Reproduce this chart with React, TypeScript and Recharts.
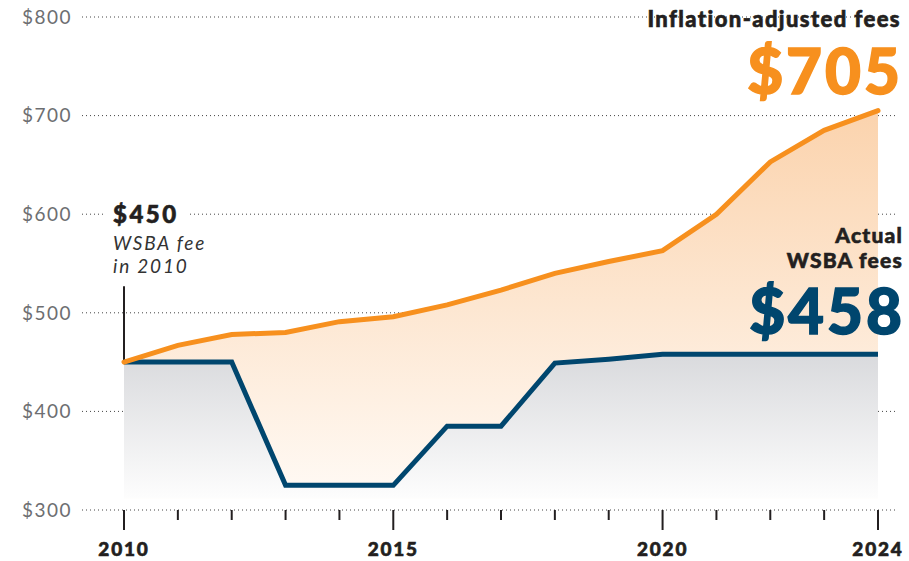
import React from 'react';
import {
  ComposedChart,
  Area,
  Line,
  XAxis,
  YAxis,
  CartesianGrid,
  ReferenceLine,
} from 'recharts';

const years = [2010, 2011, 2012, 2013, 2014, 2015, 2016, 2017, 2018, 2019, 2020, 2021, 2022, 2023, 2024];
const actualFees = [450, 450, 450, 325, 325, 325, 385, 385, 449, 453, 458, 458, 458, 458, 458];
const inflationFees = [450, 467, 478, 480, 491, 496, 508, 523, 540, 552, 563, 600, 653, 685, 705];
const majorYears = [2010, 2015, 2020, 2024];
const yTicks = [300, 400, 500, 600, 700, 800];

const data = years.map((year, i) => ({
  year,
  actual: actualFees[i],
  inflation: inflationFees[i],
}));

const FONT = 'Lato, "Open Sans", sans-serif';
const ORANGE = '#f7901e';
const NAVY = '#00466e';
const INK = '#231f20';

function YearTick(props: any) {
  const { x, y, payload } = props;
  const major = majorYears.includes(payload.value);
  return (
    <g>
      <line x1={x} x2={x} y1={y} y2={y + (major ? 20 : 10)} stroke={INK} strokeWidth={2} />
      {major && (
        <text
          x={x}
          y={y + 46}
          textAnchor="middle"
          fontFamily={FONT}
          fontWeight={900}
          fontSize={19}
          letterSpacing={1.8}
          fill={INK}
          stroke={INK}
          strokeWidth={0.6}
        >
          {payload.value}
        </text>
      )}
    </g>
  );
}

// line box == font content box (Lato: 1.2em), so top = baseline - 0.987 * size
const label = (size: number, baseline: number, extra: React.CSSProperties): React.CSSProperties => ({
  position: 'absolute',
  fontFamily: FONT,
  whiteSpace: 'nowrap',
  fontSize: size,
  lineHeight: `${size * 1.2}px`,
  top: baseline - size * 0.987,
  ...extra,
});

export default function App() {
  return (
    <div style={{ position: 'absolute', left: 0, top: 0, width: 909, height: 561, background: '#fff' }}>
      <ComposedChart width={909} height={561} data={data} margin={{ top: 17, right: 11, bottom: 0, left: 0 }}>
        <defs>
          <linearGradient id="orangeFill" x1="0" y1="0" x2="0" y2="1">
            <stop offset="0%" stopColor="#fbd3ad" />
            <stop offset="100%" stopColor="#fffaf5" />
          </linearGradient>
          <linearGradient id="greyFill" x1="0" y1="0" x2="0" y2="1">
            <stop offset="0%" stopColor="#d9dadd" />
            <stop offset="100%" stopColor="#fdfdfd" />
          </linearGradient>
        </defs>
        <XAxis
          dataKey="year"
          type="number"
          domain={[2010, 2024]}
          ticks={years}
          interval={0}
          padding={{ left: 42, right: 20 }}
          axisLine={false}
          tickLine={false}
          tickSize={0}
          tickMargin={0}
          height={51}
          tick={<YearTick />}
        />
        <YAxis
          domain={[300, 800]}
          ticks={yTicks}
          width={82}
          axisLine={false}
          tickLine={false}
          tickSize={0}
          tickMargin={10}
          tickFormatter={(v: number) => `$${v}`}
          tick={{ fill: '#6d6e71', fontSize: 19, fontFamily: FONT, letterSpacing: 1.5 }}
        />
        <Area
          dataKey="inflation"
          type="linear"
          stroke="none"
          fill="url(#orangeFill)"
          fillOpacity={1}
          baseValue={312}
          isAnimationActive={false}
        />
        <Area
          dataKey="actual"
          type="linear"
          stroke="none"
          fill="url(#greyFill)"
          fillOpacity={1}
          baseValue={312}
          isAnimationActive={false}
        />
        <CartesianGrid vertical={false} stroke="#444" strokeDasharray="1 3" />
        <ReferenceLine
          segment={[{ x: 2010, y: 452 }, { x: 2010, y: 527 }]}
          stroke={INK}
          strokeWidth={2}
        />
        <Line
          dataKey="actual"
          type="linear"
          stroke={NAVY}
          strokeWidth={5}
          dot={false}
          isAnimationActive={false}
        />
        <Line
          dataKey="inflation"
          type="linear"
          stroke={ORANGE}
          strokeWidth={5}
          strokeLinecap="round"
          dot={false}
          isAnimationActive={false}
        />
      </ComposedChart>

      {/* right-hand headline labels */}
      <div style={label(22, 28, { right: 8, fontWeight: 900, letterSpacing: 1.4, color: INK, WebkitTextStroke: `0.6px ${INK}` })}>
        Inflation-adjusted fees
      </div>
      <div style={label(62, 94, { right: 6, fontWeight: 900, letterSpacing: 3, color: ORANGE, WebkitTextStroke: `1.5px ${ORANGE}` })}>
        $705
      </div>
      <div style={label(21, 242.5, { right: 6, fontWeight: 900, letterSpacing: 1.2, color: INK, WebkitTextStroke: `0.6px ${INK}` })}>
        Actual
      </div>
      <div style={label(21, 268, { right: 6, fontWeight: 900, letterSpacing: 1.2, color: INK, WebkitTextStroke: `0.6px ${INK}` })}>
        WSBA fees
      </div>
      <div style={label(62, 334, { right: 4, fontWeight: 900, letterSpacing: 3, color: NAVY, WebkitTextStroke: `1.5px ${NAVY}` })}>
        $458
      </div>

      {/* 2010 annotation */}
      <div style={label(24, 224, { left: 106, padding: '0 8px 0 7px', background: '#fff', fontWeight: 900, letterSpacing: 2.5, color: INK, WebkitTextStroke: `0.6px ${INK}` })}>
        $450
      </div>
      <div style={label(19, 251, { left: 113, fontStyle: 'italic', letterSpacing: 1.8, color: '#333' })}>
        WSBA fee
      </div>
      <div style={label(19, 273.5, { left: 113, fontStyle: 'italic', letterSpacing: 1.8, color: '#333' })}>
        in 2010
      </div>
    </div>
  );
}
